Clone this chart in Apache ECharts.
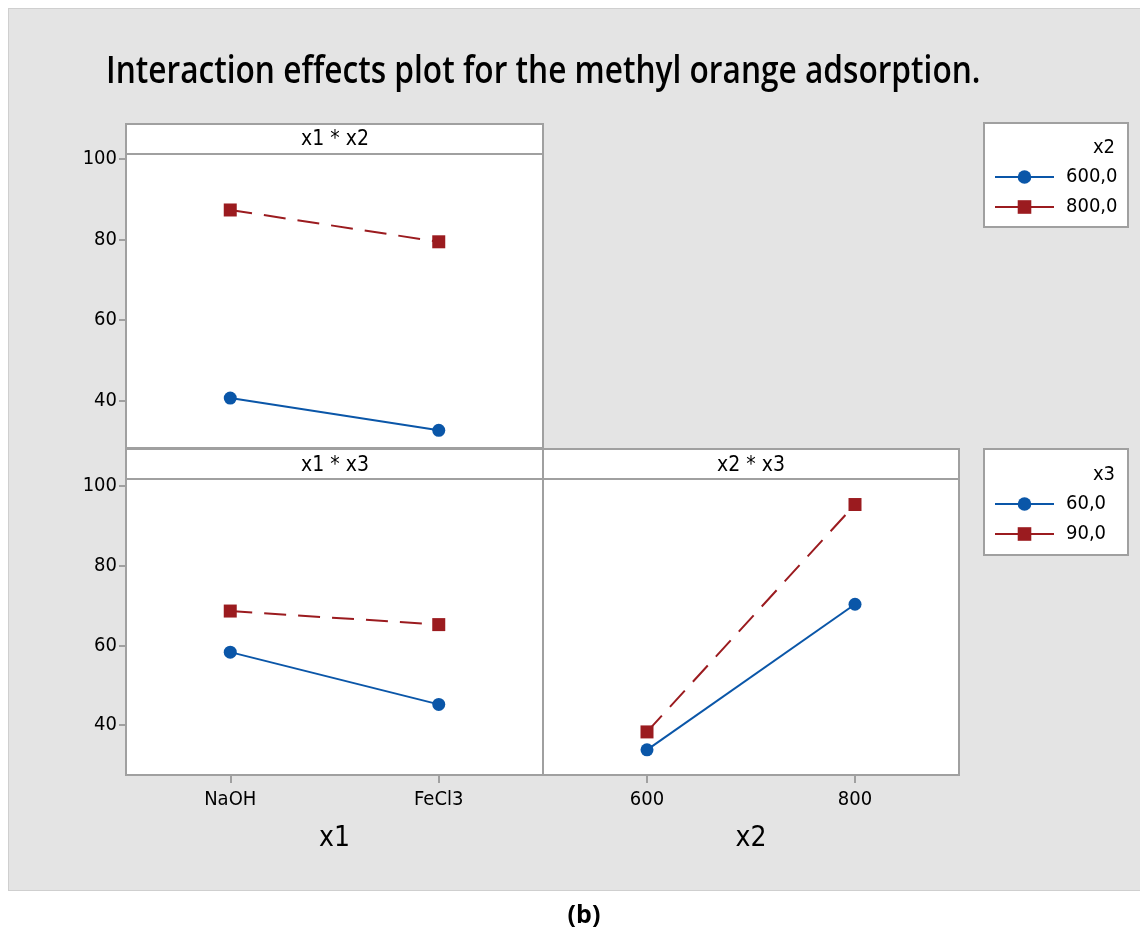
<!DOCTYPE html>
<html>
<head>
<meta charset="utf-8">
<script src="https://cdn.jsdelivr.net/npm/echarts@6/dist/echarts.min.js"></script>
<style>
  html, body { margin: 0; padding: 0; background: #ffffff; }
  #bg { position: absolute; left: 8px; top: 8px; width: 1131px; height: 881px; background: #e4e4e4; border-top: 1px solid #cfcfcf; border-left: 1px solid #cfcfcf; border-bottom: 1px solid #cfcfcf; }
  #chart { position: absolute; left: 0; top: 0; width: 1148px; height: 934px; }
</style>
</head>
<body>
<div id="bg"></div>
<div id="chart"></div>
<script>
// ---- data ----
const titleText = 'Interaction effects plot for the methyl orange adsorption.';
const x1Categories = ['NaOH', 'FeCl3'];
const x2Categories = ['600', '800'];
const yTicks = [40, 60, 80, 100];
const x2Levels = ['600,0', '800,0'];
const x3Levels = ['60,0', '90,0'];
// x1 * x2 panel (series by x2 level)
const x1x2_600 = [40.6, 32.6];
const x1x2_800 = [87.3, 79.4];
// x1 * x3 panel (series by x3 level)
const x1x3_60 = [58.3, 45.2];
const x1x3_90 = [68.6, 65.2];
// x2 * x3 panel (series by x3 level)
const x2x3_60 = [33.8, 70.3];
const x2x3_90 = [38.3, 95.3];

const BLUE = '#0a56a8';
const RED = '#9b1b1f';
const BORDER = '#a0a0a0';
const FONT = '"DejaVu Sans Condensed", "Open Sans", sans-serif';
const TFONT = '"Open Sans", sans-serif';

const chart = echarts.init(document.getElementById('chart'));

function yAxis(gridIndex, min, max, showLabels) {
  return {
    type: 'value', gridIndex, min, max,
    splitLine: { show: false },
    axisLine: { show: false },
    axisTick: { show: showLabels, length: 7, lineStyle: { color: BORDER, width: 2 }, customValues: yTicks },
    axisLabel: { show: showLabels, customValues: yTicks, color: '#000', fontSize: 20, fontFamily: FONT, margin: 9 }
  };
}
function xAxis(gridIndex, cats, showLabels, name) {
  return {
    type: 'category', gridIndex, data: cats, boundaryGap: true,
    axisLine: { show: false },
    axisTick: { show: showLabels, alignWithLabel: true, length: 8, lineStyle: { color: BORDER, width: 2 } },
    axisLabel: { show: showLabels, color: '#000', fontSize: 20, fontFamily: FONT, margin: 15 },
    name: name, nameLocation: 'middle', nameGap: 50,
    nameTextStyle: { color: '#000', fontSize: 28, fontFamily: FONT }
  };
}
function solid(name, x, y, data) {
  return { type: 'line', name, xAxisIndex: x, yAxisIndex: y, data,
    symbol: 'circle', symbolSize: 13,
    lineStyle: { color: BLUE, width: 2 }, itemStyle: { color: BLUE }, z: 3 };
}
function dashed(name, x, y, data) {
  return { type: 'line', name, xAxisIndex: x, yAxisIndex: y, data,
    symbol: 'rect', symbolSize: 13,
    lineStyle: { color: RED, width: 2, type: [22, 12] }, itemStyle: { color: RED }, z: 3 };
}
const gridStyle = { show: true, backgroundColor: '#ffffff', borderColor: BORDER, borderWidth: 2 };

function legendDef(data, top) {
  return {
    data, orient: 'vertical', left: 994, top, padding: 0, itemWidth: 59, itemHeight: 17, itemGap: 10,
    textStyle: { fontSize: 20, fontFamily: FONT, color: '#000', padding: [0, 0, 0, 7] },
    lineStyle: { type: 'solid', width: 2 }
  };
}

const option = {
  animation: false,
  backgroundColor: 'transparent',
  grid: [
    Object.assign({ left: 126, top: 154, width: 417, height: 294 }, gridStyle),
    Object.assign({ left: 126, top: 479, width: 417, height: 296 }, gridStyle),
    Object.assign({ left: 543, top: 479, width: 416, height: 296 }, gridStyle)
  ],
  xAxis: [
    xAxis(0, x1Categories, false, ''),
    xAxis(1, x1Categories, true, 'x1'),
    xAxis(2, x2Categories, true, 'x2')
  ],
  yAxis: [
    yAxis(0, 28.2, 101.2, true),
    yAxis(1, 27.5, 101.7, true),
    yAxis(2, 27.5, 101.7, false)
  ],
  legend: [
    legendDef(x2Levels, 167),
    legendDef(x3Levels, 494)
  ],
  series: [
    solid(x2Levels[0], 0, 0, x1x2_600),
    dashed(x2Levels[1], 0, 0, x1x2_800),
    solid(x3Levels[0], 1, 1, x1x3_60),
    dashed(x3Levels[1], 1, 1, x1x3_90),
    solid(x3Levels[0], 2, 2, x2x3_60),
    dashed(x3Levels[1], 2, 2, x2x3_90)
  ],
  graphic: [
    { type: 'text', x: 106, y: 72, scaleX: 0.855, style: { text: titleText, font: '600 37px ' + TFONT, fill: '#000', verticalAlign: 'middle' } },
    // panel headers
    { type: 'rect', shape: { x: 126, y: 124, width: 417, height: 30 }, style: { fill: '#fff', stroke: BORDER, lineWidth: 2 } },
    { type: 'text', x: 335, y: 140, style: { text: 'x1 * x2', font: '21px ' + FONT, fill: '#000', align: 'center', verticalAlign: 'middle' } },
    { type: 'rect', shape: { x: 126, y: 449, width: 417, height: 30 }, style: { fill: '#fff', stroke: BORDER, lineWidth: 2 } },
    { type: 'text', x: 335, y: 466, style: { text: 'x1 * x3', font: '21px ' + FONT, fill: '#000', align: 'center', verticalAlign: 'middle' } },
    { type: 'rect', shape: { x: 543, y: 449, width: 416, height: 30 }, style: { fill: '#fff', stroke: BORDER, lineWidth: 2 } },
    { type: 'text', x: 751, y: 466, style: { text: 'x2 * x3', font: '21px ' + FONT, fill: '#000', align: 'center', verticalAlign: 'middle' } },
    // legend boxes
    { type: 'rect', z: -1, shape: { x: 984, y: 123, width: 144, height: 104 }, style: { fill: '#fff', stroke: BORDER, lineWidth: 2 } },
    { type: 'text', x: 1115, y: 148, style: { text: 'x2', font: '20px ' + FONT, fill: '#000', align: 'right', verticalAlign: 'middle' } },
    { type: 'rect', z: -1, shape: { x: 984, y: 449, width: 144, height: 106 }, style: { fill: '#fff', stroke: BORDER, lineWidth: 2 } },
    { type: 'text', x: 1115, y: 475, style: { text: 'x3', font: '20px ' + FONT, fill: '#000', align: 'right', verticalAlign: 'middle' } },
    // caption
    { type: 'text', x: 584, y: 916, style: { text: '(b)', font: 'bold 25px "Open Sans", sans-serif', fill: '#000', align: 'center', verticalAlign: 'middle' } }
  ]
};
chart.setOption(option);
</script>
</body>
</html>
